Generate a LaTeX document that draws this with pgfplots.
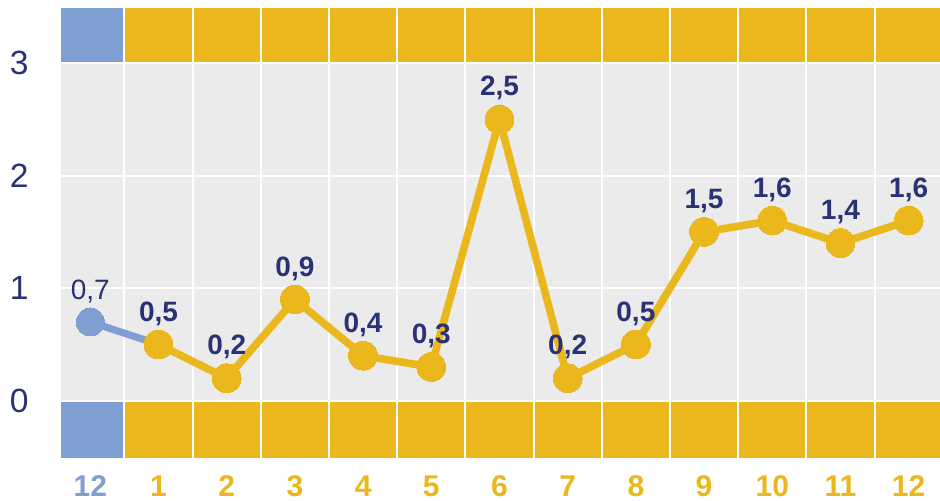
\documentclass[border=0pt]{standalone}
\usepackage{fontspec}
\setmainfont{Liberation Sans}
\usepackage{pgfplots}
\pgfplotsset{compat=1.18}
\definecolor{gold}{HTML}{EAB81C}
\definecolor{cblue}{HTML}{7F9FD3}
\definecolor{navy}{HTML}{283275}
\definecolor{bg}{HTML}{EBEBEB}
\begin{document}
\begin{tikzpicture}
\begin{axis}[
  at={(30.5pt,21.5pt)}, anchor=south west,
  scale only axis, width=439.5pt, height=224pt,
  xmin=-0.43, xmax=12.46, ymin=-0.5, ymax=3.48,
  /pgf/number format/assume math mode=true,
  axis line style={draw=none},
  axis background/.style={fill=bg},
  ytick={0,1,2,3}, xtick={0,...,12},
  xticklabels={\textcolor{cblue}{12},1,2,3,4,5,6,7,8,9,10,11,12},
  major tick length=0pt, tick style={draw=none},
  yticklabel style={font=\fontsize{16.8}{18}\selectfont, text=navy, anchor=east, inner sep=0pt, xshift=-16pt},
  xticklabel style={font=\fontsize{15}{17}\selectfont\bfseries, text=gold, anchor=north, inner sep=0pt, yshift=-9pt},
]
% bands
\addplot[fill=cblue, draw=none] coordinates {(-0.6,3) (0.5,3) (0.5,3.6) (-0.6,3.6)} --cycle;
\addplot[fill=cblue, draw=none] coordinates {(-0.6,-0.6) (0.5,-0.6) (0.5,0) (-0.6,0)} --cycle;
\addplot[fill=gold, draw=none] coordinates {(0.5,3) (12.6,3) (12.6,3.6) (0.5,3.6)} --cycle;
\addplot[fill=gold, draw=none] coordinates {(0.5,-0.6) (12.6,-0.6) (12.6,0) (0.5,0)} --cycle;
% white grid
\pgfplotsinvokeforeach{0.5,1.5,2.5,3.5,4.5,5.5,6.5,7.5,8.5,9.5,10.5,11.5}{
  \addplot[white, line width=1pt] coordinates {(#1,-1) (#1,4)};
}
\pgfplotsinvokeforeach{0,1,2,3}{
  \addplot[white, line width=1pt] coordinates {(-1,#1) (13,#1)};
}
% data
\addplot[cblue, line width=3.6pt] coordinates {(0,0.7) (1,0.5)};
\addplot[cblue, only marks, mark=*, mark size=7pt, mark options={fill=cblue, draw=cblue, line width=0pt},
  nodes near coords={\pgfmathprintnumber[use comma,fixed,fixed zerofill,precision=1,assume math mode=true]{\pgfplotspointmeta}},
  every node near coord/.style={font=\fontsize{14}{16}\selectfont, text=navy, anchor=south, inner sep=0pt, yshift=9.5pt}]
  coordinates {(0,0.7)};
\addplot[gold, line width=3.8pt, line join=round, mark=*, mark size=7.2pt, mark options={fill=gold, draw=gold, line width=0pt},
  nodes near coords={\pgfmathprintnumber[use comma,fixed,fixed zerofill,precision=1,assume math mode=true]{\pgfplotspointmeta}},
  every node near coord/.style={font=\fontsize{14}{16}\selectfont\bfseries, text=navy, anchor=south, inner sep=0pt, yshift=9.5pt}]
  coordinates {(1,0.5) (2,0.2) (3,0.9) (4,0.4) (5,0.3) (6,2.5) (7,0.2) (8,0.5) (9,1.5) (10,1.6) (11,1.4) (12,1.6)};
\end{axis}
\pgfresetboundingbox
\path (0,0) rectangle (470pt,250pt);
\end{tikzpicture}
\end{document}
